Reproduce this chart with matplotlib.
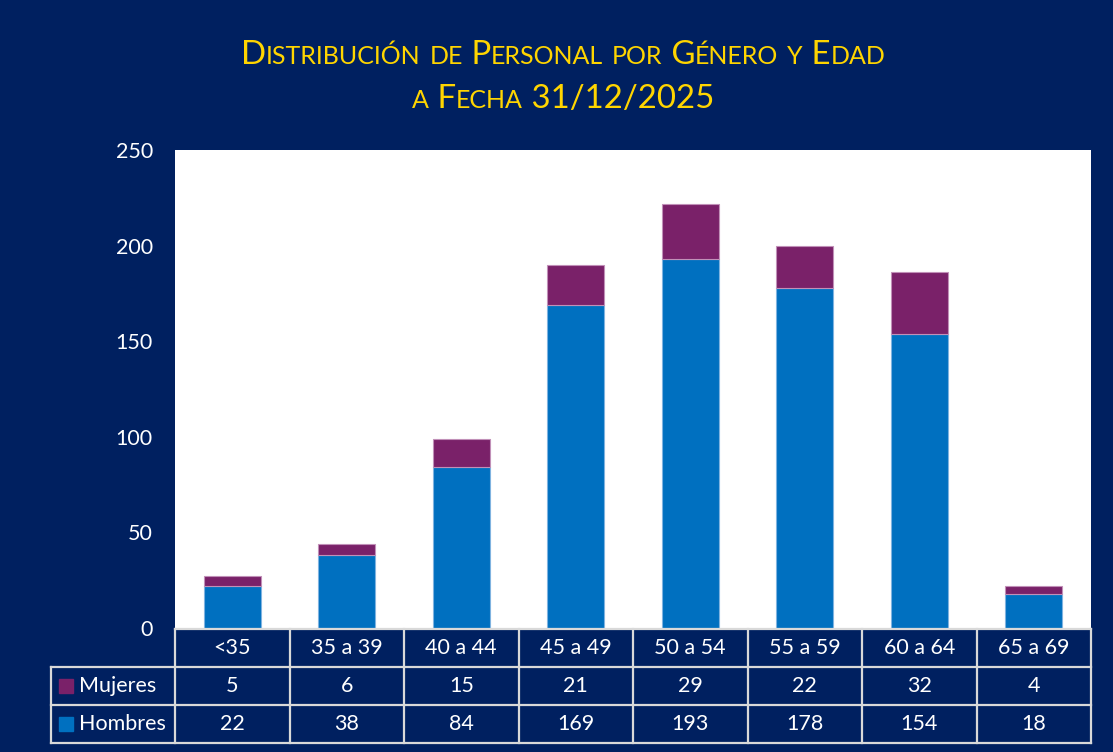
import matplotlib.pyplot as plt
import numpy as np

categorias = ['<35', '35 a 39', '40 a 44', '45 a 49', '50 a 54', '55 a 59', '60 a 64', '65 a 69']
mujeres = [5, 6, 15, 21, 29, 22, 32, 4]
hombres = [22, 38, 84, 169, 193, 178, 154, 18]
series = ['Mujeres', 'Hombres']
y_ticks = [0, 50, 100, 150, 200, 250]
titulo = ['Distribución de Personal por Género y Edad', 'a Fecha 31/12/2025']

FONDO = '#002060'
AZUL = '#0070C0'
MORADO = '#7A2169'
AMARILLO = '#FFD500'
BORDE = '#D9D9D9'
plt.rcParams['font.family'] = ['Lato', 'DejaVu Sans']

W, H = 1113, 752
fig = plt.figure(figsize=(W / 100, H / 100), dpi=100, facecolor=FONDO)

# area del grafico
ax = fig.add_axes([175 / W, 1 - 628 / H, (1091 - 175) / W, (628 - 150) / H])
ax.set_facecolor('white')
x = np.arange(len(categorias))
ax.bar(x, hombres, 0.5, color=AZUL, edgecolor='#7FB3E0', linewidth=0.8)
ax.bar(x, mujeres, 0.5, bottom=hombres, color=MORADO, edgecolor='#C190B8', linewidth=0.8)
ax.set_xlim(-0.5, len(categorias) - 0.5)
ax.set_ylim(0, 250)
ax.set_xticks([])
ax.set_yticks(y_ticks)
ax.tick_params(axis='y', length=0, labelcolor='white', labelsize=15.5, pad=16)
for s in ax.spines.values():
    s.set_visible(False)

# tabla de datos
px_unidad = (1091 - 175) / len(categorias)
xl = -0.5 - (175 - 51) / px_unidad
tab = fig.add_axes([51 / W, 1 - 743 / H, (1091 - 51) / W, (743 - 629) / H])
tab.set_xlim(xl, len(categorias) - 0.5)
tab.set_ylim(3, 0)
tab.axis('off')
n = len(categorias)
kw = dict(color=BORDE, lw=1.6, clip_on=False, solid_capstyle='projecting')
tab.plot([-0.5, n - 0.5], [0, 0], **kw)
for r in (1, 2, 3):
    tab.plot([xl, n - 0.5], [r, r], **kw)
for i in range(n + 1):
    tab.plot([i - 0.5, i - 0.5], [0, 3], **kw)
tab.plot([xl, xl], [1, 3], **kw)

fs = 15.5
for i, c in enumerate(categorias):
    tab.text(i, 0.5, c, color='white', fontsize=fs, ha='center', va='center')
    tab.text(i, 1.5, str(mujeres[i]), color='white', fontsize=fs, ha='center', va='center')
    tab.text(i, 2.5, str(hombres[i]), color='white', fontsize=fs, ha='center', va='center')

for fila, (nombre, col) in enumerate(zip(series, [MORADO, AZUL])):
    yc = fila + 1.5
    tab.plot([xl + 15 / px_unidad], [yc], marker='s', ms=10, color=col, clip_on=False)
    tab.text(xl + 28 / px_unidad, yc, nombre, color='white', fontsize=fs, ha='left', va='center')

# titulo en versalitas
renderer = fig.canvas.get_renderer()


def versalitas(texto, xc, y_base, grande, chico):
    trozos = []
    for ch in texto:
        tam = chico if ch.islower() else grande
        if trozos and trozos[-1][1] == tam and ch != ' ':
            trozos[-1][0] += ch.upper()
        else:
            trozos.append([ch.upper(), tam])
    anchos = []
    for t, tam in trozos:
        if t == ' ':
            anchos.append(tam * 0.27 * 100 / 72)
            continue
        tmp = fig.text(0, 0, t, fontsize=tam)
        anchos.append(tmp.get_window_extent(renderer).width)
        tmp.remove()
    xpos = xc - sum(anchos) / 2
    for (t, tam), w in zip(trozos, anchos):
        if t != ' ':
            fig.text(xpos / W, 1 - y_base / H, t, fontsize=tam, color=AMARILLO,
                     ha='left', va='baseline')
        xpos += w


versalitas(titulo[0], 563, 64, 23.8, 18)
versalitas(titulo[1], 563, 108, 23.8, 18)

fig.savefig('out.png', dpi=100, facecolor=FONDO)
